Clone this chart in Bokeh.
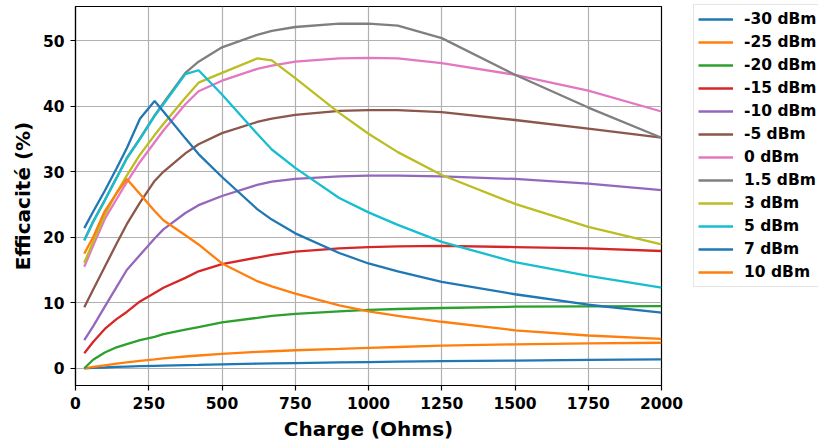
from bokeh.plotting import figure
from bokeh.models import Legend, LegendItem, Range1d, FixedTicker
from bokeh.embed import file_html
from bokeh.resources import INLINE

# Charge (Ohms) sample points
charge = [30, 60, 100, 140, 175, 220, 270, 300, 375, 420, 500, 620, 670, 750,
          900, 1000, 1100, 1250, 1500, 1750, 2000]

# Efficacité (%) per input power
eff_m30 = [0.0, 0.05, 0.12, 0.2, 0.26, 0.32, 0.38, 0.41, 0.48, 0.52, 0.6, 0.7, 0.74, 0.8,
           0.9, 0.95, 1.0, 1.08, 1.18, 1.28, 1.35]
eff_m25 = [0.0, 0.2, 0.45, 0.7, 0.9, 1.12, 1.35, 1.5, 1.8, 1.95, 2.2, 2.5, 2.6, 2.75,
           2.95, 3.1, 3.25, 3.45, 3.65, 3.8, 3.9]
eff_m20 = [0.0, 1.3, 2.4, 3.2, 3.7, 4.3, 4.8, 5.2, 5.9, 6.3, 7.0, 7.7, 8.0, 8.3,
           8.7, 8.9, 9.05, 9.2, 9.4, 9.45, 9.5]
eff_m15 = [2.3, 4.0, 6.0, 7.5, 8.6, 10.2, 11.5, 12.3, 13.8, 14.8, 15.9, 16.9, 17.3, 17.8,
           18.3, 18.5, 18.6, 18.7, 18.5, 18.3, 17.9]
eff_m10 = [4.3, 6.4, 9.4, 12.4, 15.0, 17.3, 19.8, 21.2, 23.7, 24.9, 26.3, 28.0, 28.5, 28.9,
           29.3, 29.4, 29.4, 29.3, 28.9, 28.2, 27.2]
eff_m5 = [9.3, 12.0, 15.5, 19.0, 22.0, 25.3, 28.6, 30.0, 32.8, 34.2, 35.9, 37.6, 38.1, 38.7,
          39.3, 39.4, 39.4, 39.1, 37.9, 36.6, 35.2]
eff_p0 = [15.5, 18.7, 22.8, 25.8, 28.4, 31.5, 34.5, 36.3, 40.3, 42.3, 43.9, 45.7, 46.2, 46.8,
          47.3, 47.4, 47.3, 46.6, 44.8, 42.4, 39.2]
eff_p15 = [19.6, 22.4, 25.7, 29.1, 32.1, 35.1, 38.6, 40.5, 45.1, 46.8, 49.0, 50.9, 51.5, 52.1,
           52.6, 52.6, 52.3, 50.4, 44.8, 39.8, 35.2]
eff_p3 = [16.1, 19.3, 23.4, 26.8, 29.4, 32.6, 35.6, 37.3, 41.3, 43.6, 45.1, 47.3, 47.0, 44.3,
          39.0, 35.8, 33.0, 29.5, 25.1, 21.6, 18.9]
eff_p5 = [19.5, 22.3, 25.6, 29.0, 32.0, 35.0, 38.5, 40.3, 44.9, 45.5, 41.8, 35.8, 33.4, 30.6,
          26.0, 23.8, 21.9, 19.3, 16.2, 14.1, 12.3]
eff_p7 = [21.4, 23.9, 27.1, 30.5, 33.6, 38.1, 40.8, 39.2, 35.1, 32.7, 29.2, 24.3, 22.7, 20.6,
          17.6, 16.0, 14.8, 13.2, 11.3, 9.7, 8.5]
eff_p10 = [17.5, 20.0, 24.0, 26.7, 28.9, 26.6, 24.0, 22.6, 20.3, 18.9, 16.0, 13.3, 12.5, 11.4,
           9.6, 8.7, 8.0, 7.1, 5.8, 5.0, 4.5]

labels = ["-30 dBm", "-25 dBm", "-20 dBm", "-15 dBm", "-10 dBm", "-5 dBm",
          "0 dBm", "1.5 dBm", "3 dBm", "5 dBm", "7 dBm", "10 dBm"]
series = [eff_m30, eff_m25, eff_m20, eff_m15, eff_m10, eff_m5,
          eff_p0, eff_p15, eff_p3, eff_p5, eff_p7, eff_p10]
colors = ["#1f77b4", "#ff7f0e", "#2ca02c", "#d62728", "#9467bd", "#8c564b",
          "#e377c2", "#7f7f7f", "#bcbd22", "#17becf", "#1f77b4", "#ff7f0e"]

x_ticks = [0, 250, 500, 750, 1000, 1250, 1500, 1750, 2000]
y_ticks = [0, 10, 20, 30, 40, 50]

FONT = "DejaVu Sans"

p = figure(width=818, height=445, frame_width=586, frame_height=379,
           output_backend="svg", toolbar_location=None,
           x_range=Range1d(0, 2000), y_range=Range1d(-2.63, 55.23),
           min_border_left=75, min_border_right=0, min_border_top=6,
           min_border_bottom=60)

renderers = []
for lab, ys, col in zip(labels, series, colors):
    r = p.line(charge, ys, line_color=col, line_width=2.3)
    renderers.append((lab, r))

for ax in (p.xaxis[0], p.yaxis[0]):
    ax.major_label_text_font = FONT
    ax.major_label_text_font_style = "bold"
    ax.major_label_text_font_size = "15.5px"
    ax.major_label_text_color = "black"
    ax.major_label_text_line_height = 1.0
    ax.axis_label_text_font = FONT
    ax.axis_label_text_font_style = "bold"
    ax.axis_label_text_font_size = "20px"
    ax.axis_label_text_color = "black"
    ax.axis_label_text_line_height = 1.0
    ax.major_tick_out = 5
    ax.major_tick_in = 0
    ax.minor_tick_out = 0
    ax.minor_tick_in = 0
    ax.major_tick_line_color = "black"
    ax.major_tick_line_width = 1.2
    ax.axis_line_color = "black"
    ax.axis_line_width = 1.2

p.xaxis[0].ticker = FixedTicker(ticks=x_ticks)
p.yaxis[0].ticker = FixedTicker(ticks=y_ticks)
p.xaxis[0].axis_label = "Charge (Ohms)"
p.yaxis[0].axis_label = "Efficacité (%)"
p.xaxis[0].major_label_standoff = 6
p.xaxis[0].axis_label_standoff = 5
p.yaxis[0].major_label_standoff = 6
p.yaxis[0].axis_label_standoff = 5

p.xgrid.ticker = FixedTicker(ticks=x_ticks)
p.ygrid.ticker = FixedTicker(ticks=y_ticks)
p.grid.grid_line_color = "#b0b0b0"
p.grid.grid_line_width = 1.2

p.outline_line_color = "black"
p.outline_line_width = 1.2
p.background_fill_color = "white"
p.border_fill_color = "white"

legend = Legend(items=[LegendItem(label=lab, renderers=[r]) for lab, r in renderers],
                location=(32, 98))
legend.label_text_font = FONT
legend.label_text_font_style = "bold"
legend.label_text_font_size = "15.5px"
legend.label_text_color = "black"
legend.glyph_width = 35
legend.glyph_height = 20
legend.label_height = 20
legend.label_standoff = 11
legend.spacing = 3
legend.padding = 4
legend.margin = 0
legend.border_line_color = "#cccccc"
legend.border_line_width = 1
legend.background_fill_alpha = 1.0
p.add_layout(legend, "right")

with open("out.html", "w", encoding="utf-8") as f:
    f.write(file_html(p, INLINE))
